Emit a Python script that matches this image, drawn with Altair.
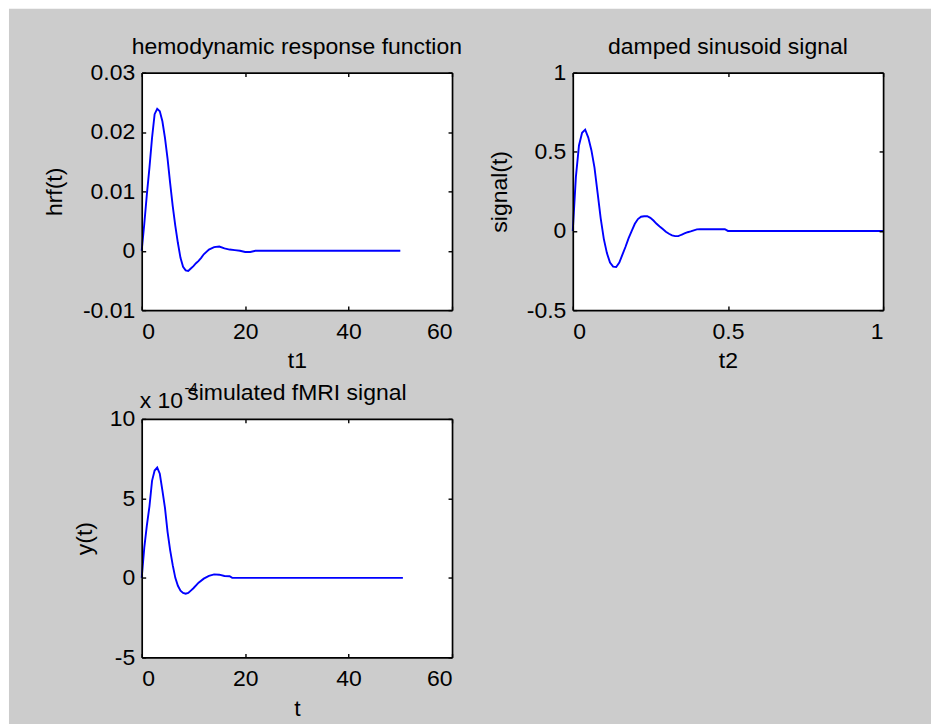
import altair as alt
import pandas as pd

# ---- data ----
t1 = [0, 0.5, 1, 1.5, 2, 2.5, 3, 3.5, 4, 4.5, 5, 5.5, 6, 6.5, 7, 7.5, 8, 8.5, 9, 9.5,
      10, 10.5, 11, 11.5, 12, 13, 14, 15, 16, 17, 18, 19, 20, 21, 22, 50]
hrf = [0, 0.0045, 0.0095, 0.0140, 0.0190, 0.0230, 0.0239, 0.0235, 0.0218, 0.0190,
       0.0155, 0.0114, 0.0075, 0.0042, 0.0013, -0.0012, -0.0027, -0.0033, -0.0034, -0.0030,
       -0.0026, -0.0021, -0.0017, -0.0012, -0.0006, 0.0002, 0.0006, 0.0007, 0.0004, 0.0002,
       0.0001, 0.0, -0.0002, -0.0002, 0.0, 0.0]

t2 = [0.00, 0.01, 0.02, 0.03, 0.04, 0.05, 0.06, 0.07, 0.08, 0.09,
      0.10, 0.11, 0.12, 0.13, 0.14, 0.15, 0.16, 0.17, 0.18, 0.19,
      0.20, 0.21, 0.22, 0.23, 0.24, 0.25, 0.26, 0.27, 0.28, 0.29,
      0.30, 0.31, 0.32, 0.33, 0.34, 0.35, 0.36, 0.37, 0.38, 0.39,
      0.40, 0.41, 0.49, 0.50, 1.00]
sig = [0.00, 0.34, 0.54, 0.62, 0.64, 0.59, 0.51, 0.40, 0.24, 0.08,
       -0.05, -0.14, -0.20, -0.225, -0.228, -0.20, -0.15, -0.10, -0.045, 0.00,
       0.045, 0.075, 0.09, 0.093, 0.093, 0.083, 0.066, 0.045, 0.028, 0.012,
       -0.005, -0.018, -0.028, -0.033, -0.033, -0.024, -0.016, -0.008, -0.003, 0.004,
       0.010, 0.011, 0.011, 0.0, 0.0]

t3 = [0, 0.5, 1, 1.5, 2, 2.5, 3, 3.5, 4, 4.5, 5, 5.5, 6, 6.5, 7, 7.5, 8, 8.5, 9, 9.5,
      10, 11, 12, 13, 14, 15, 16, 17, 17.5, 50.5]
y3 = [0, 1.9e-4, 3.3e-4, 4.5e-4, 6.1e-4, 6.75e-4, 6.94e-4, 6.55e-4, 5.5e-4, 4.4e-4,
      2.9e-4, 1.75e-4, 0.8e-4, 0.0, -0.5e-4, -0.8e-4, -0.95e-4, -1.0e-4, -0.95e-4, -0.8e-4,
      -0.65e-4, -0.3e-4, -0.05e-4, 0.12e-4, 0.22e-4, 0.2e-4, 0.12e-4, 0.1e-4, 0.0, 0.0]

x1_ticks = [0, 20, 40, 60]
y1_ticks = [-0.01, 0, 0.01, 0.02, 0.03]
x2_ticks = [0, 0.5, 1]
y2_ticks = [-0.5, 0, 0.5, 1]
x3_ticks = [0, 20, 40, 60]
y3_ticks = [-5e-4, 0, 5e-4, 10e-4]

titles = ["hemodynamic response function", "damped sinusoid signal", "simulated fMRI signal"]
xtitles = ["t1", "t2", "t"]
ytitles = ["hrf(t)", "signal(t)", "y(t)"]
exponent = ["x 10", "-4"]

FONT = "Liberation Sans"
FS = 23
W = 311
BLUE = "#0000ff"
GRAY = "#cccccc"
MINUS = "\u2212"


def fmt_expr(spec, scale=1):
    return "replace(format(datum.value * %s, '%s'), '%s', '-')" % (scale, spec, MINUS)


def text_layer(s, x, y, size=FS, align="center"):
    return alt.Chart(pd.DataFrame({"s": [s]})).mark_text(
        font=FONT, fontSize=size, align=align, baseline="alphabetic", color="black").encode(
        x=alt.value(x), y=alt.value(y), text="s:N")


def panel(df, xdom, ydom, xt, yt, xexpr, yexpr, xtitle, ytitle, title, h,
          ytx, before=(), after=()):
    xs = alt.Scale(domain=xdom, nice=False, zero=False)
    ys = alt.Scale(domain=ydom, nice=False, zero=False)
    common = dict(labelFont=FONT, labelFontSize=FS, labelColor="black",
                  titleFont=FONT, titleFontSize=FS, titleColor="black",
                  titleFontWeight="normal", zindex=1, grid=False,
                  domainColor="black", domainWidth=1.7,
                  tickColor="black", tickWidth=1.4)
    line = alt.Chart(df).mark_line(color=BLUE, strokeWidth=1.9).encode(
        x=alt.X("x:Q", scale=xs, axis=alt.Axis(
            orient="bottom", values=xt, labelExpr=xexpr, ticks=False, tickSize=0,
            domain=True, labelPadding=28, labelBaseline="alphabetic",
            title=xtitle, titleY=58, titleBaseline="alphabetic", **common)),
        y=alt.Y("y:Q", scale=ys, axis=alt.Axis(
            orient="left", values=yt, labelExpr=yexpr, ticks=False, tickSize=0,
            domain=True, labelPadding=7,
            title=ytitle, titleX=ytx, titleY=h / 2, **common)),
    )
    tick_a = alt.Chart(df).mark_line(strokeOpacity=0).encode(
        x=alt.X("x:Q", scale=xs, axis=alt.Axis(
            orient="top", offset=-h, values=xt, labels=False, ticks=True,
            tickSize=4, domain=False, title="", **common)),
        y=alt.Y("y:Q", scale=ys, axis=alt.Axis(
            orient="right", offset=-W, values=yt, labels=False, ticks=True,
            tickSize=4, domain=False, title="", **common)),
    )
    tick_b = alt.Chart(df).mark_line(strokeOpacity=0).encode(
        x=alt.X("x:Q", scale=xs, axis=alt.Axis(
            orient="bottom", offset=-h, values=xt, labels=False, ticks=True,
            tickSize=4, domain=True, title="", **common)),
        y=alt.Y("y:Q", scale=ys, axis=alt.Axis(
            orient="left", offset=-W, values=yt, labels=False, ticks=True,
            tickSize=4, domain=True, title="", **common)),
    )
    ttl = text_layer(title, W / 2, -19)
    layers = list(before) + [line, tick_a, tick_b, ttl] + list(after)
    return alt.layer(*layers).resolve_axis(x="independent", y="independent").properties(
        width=W, height=h)


H1 = 238
H3 = 239

# figure background (gray) and white plot area for the first panel
bg = alt.Chart(pd.DataFrame({"k": [0]})).mark_rect(color=GRAY).encode(
    x=alt.value(-133), x2=alt.value(791), y=alt.value(-64), y2=alt.value(653))
plot_bg = alt.Chart(pd.DataFrame({"k": [0]})).mark_rect(color="white").encode(
    x=alt.value(0), x2=alt.value(W), y=alt.value(0), y2=alt.value(H1))

exp_base = text_layer(exponent[0], -2, -11, FS, "left")
exp_sup = text_layer(exponent[1], 43, -26, 15, "left")

df1 = pd.DataFrame({"x": t1, "y": hrf})
df2 = pd.DataFrame({"x": t2, "y": sig})
df3 = pd.DataFrame({"x": t3, "y": y3})

p1 = panel(df1, [0, 60], [-0.01, 0.03], x1_ticks, y1_ticks,
           fmt_expr("d"), fmt_expr(".2~f"), xtitles[0], ytitles[0], titles[0], H1,
           -75, before=[bg, plot_bg])
p2 = panel(df2, [0, 1], [-0.5, 1], x2_ticks, y2_ticks,
           fmt_expr(".1~f"), fmt_expr(".1~f"), xtitles[1], ytitles[1], titles[1], H1,
           -61)
p3 = panel(df3, [0, 60], [-5e-4, 10e-4], x3_ticks, y3_ticks,
           fmt_expr("d"), fmt_expr("d", 10000), xtitles[2], ytitles[2], titles[2], H3,
           -45, after=[exp_base, exp_sup])

chart = alt.concat(p1, p2, p3, columns=2, spacing={"row": 109, "column": 121},
                   bounds="flush").properties(
    padding={"left": 8, "top": 7, "right": 0, "bottom": 0},
    background="white",
).configure_view(stroke="transparent", fill="white")

chart.save("out.html", embed_options={"renderer": "svg", "actions": False})
